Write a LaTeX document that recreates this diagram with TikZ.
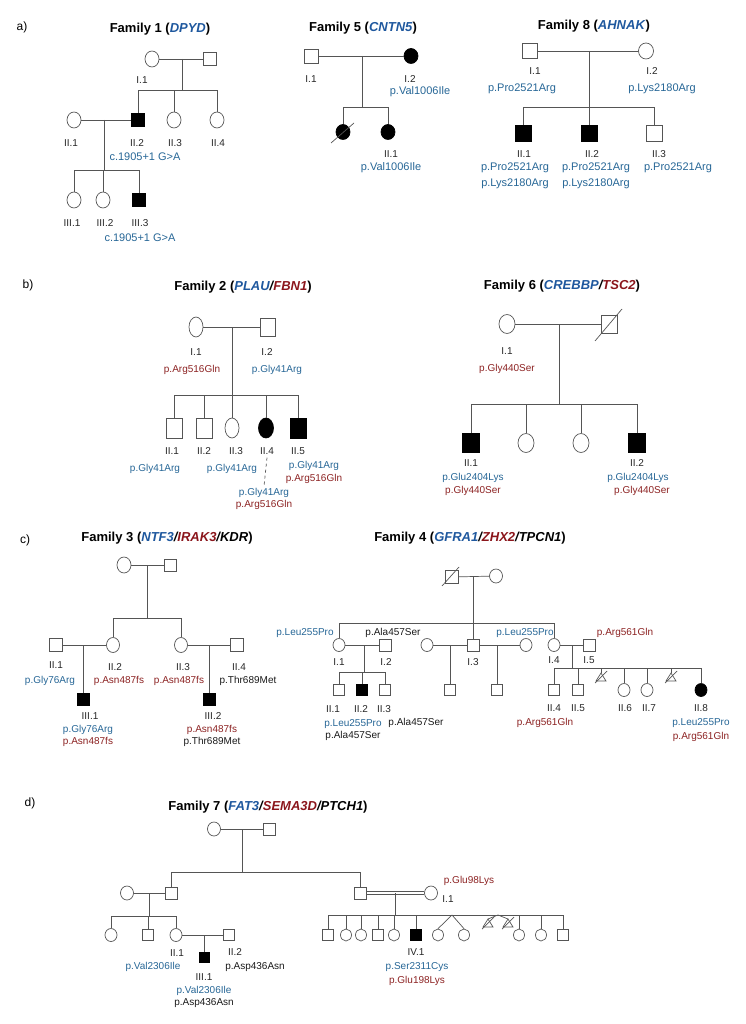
\documentclass[tikz,border=0pt]{standalone}
\usepackage{fontspec}
\setmainfont{Liberation Sans}
\usetikzlibrary{shapes.geometric}

\definecolor{geneblue}{RGB}{31,88,158}
\definecolor{genered}{RGB}{139,22,28}
\definecolor{varblue}{RGB}{38,102,150}
\definecolor{varred}{RGB}{140,34,34}
\definecolor{pedline}{RGB}{85,85,85}

\tikzset{
  ped/.style={draw=pedline, line width=0.7pt},
  male/.style 2 args={draw=pedline, line width=0.7pt, fill=white, rectangle, inner sep=0pt, minimum width=#1pt, minimum height=#2pt},
  female/.style 2 args={draw=pedline, line width=0.7pt, fill=white, ellipse, inner sep=0pt, minimum width=#1pt, minimum height=#2pt},
  aff/.style={fill=black, draw=black},
  gen/.style={font=\fontsize{10}{12}\selectfont, text=black!85, inner sep=0pt},
  vb/.style={font=\fontsize{10}{12}\selectfont, text=varblue, inner sep=0pt},
  vr/.style={font=\fontsize{10}{12}\selectfont, text=varred, inner sep=0pt},
  vk/.style={font=\fontsize{10}{12}\selectfont, text=black!90, inner sep=0pt},
  big/.style={font=\fontsize{11}{13}\selectfont},
  title/.style={font=\fontsize{13}{15}\selectfont\bfseries, inner sep=0pt},
  panel/.style={font=\fontsize{12}{14}\selectfont, inner sep=0pt}
}

% triangle for a lost pregnancy, apex at (#1,#2)
\newcommand{\lossmark}[2]{%
  \draw[ped] (#1,#2) -- (#1-5,#2+8) -- (#1+5,#2+8) -- cycle;
  \draw[ped] (#1-6,#2+10) -- (#1+6,#2-2);}

\begin{document}
\begin{tikzpicture}[x=1pt,y=-1pt]
\useasboundingbox (0,0) rectangle (745,1024);

% ---------------- a) Family 1
\node[panel] (pa) at (22,27) {a)};
\node[title] (h1) at (160,29) {Family 1 (\textcolor{geneblue}{\textit{DPYD}})};
\node[female={14}{16}] (f1I1) at (152,59) {};
\node[male={13}{13}] (f1I2) at (210,59) {};
\node[female={14}{16}] (f1II1) at (74,120) {};
\node[male={13}{13},aff] (f1II2) at (138,120) {};
\node[female={14}{16}] (f1II3) at (174,120) {};
\node[female={14}{16}] (f1II4) at (217,120) {};
\node[female={14}{16}] (f1III1) at (74,200) {};
\node[female={14}{16}] (f1III2) at (103,200) {};
\node[male={13}{13},aff] (f1III3) at (139,200) {};
\coordinate (f1m1) at (182,59); \coordinate (f1s1) at (182,90);
\coordinate (f1m2) at (104,120); \coordinate (f1s2) at (104,170);
\draw[ped] (f1I1) -- (f1I2);
\draw[ped] (f1m1) -- (f1s1);
\draw[ped] (f1II2.north |- f1s1) -- (f1II4.north |- f1s1);
\foreach \k in {f1II2,f1II3,f1II4} \draw[ped] (\k.north) -- (\k.north |- f1s1);
\draw[ped] (f1II1) -- (f1II2);
\draw[ped] (f1m2) -- (f1s2);
\draw[ped] (f1III1.north |- f1s2) -- (f1III3.north |- f1s2);
\foreach \k in {f1III1,f1III2,f1III3} \draw[ped] (\k.north) -- (\k.north |- f1s2);
\node[gen] (t1a) at (142,80) {I.1};
\node[gen] (t1b) at (71,143) {II.1};
\node[gen] (t1c) at (137,143) {II.2};
\node[gen] (t1d) at (175,143) {II.3};
\node[gen] (t1e) at (218,143) {II.4};
\node[vb,big] (t1f) at (145,157) {c.1905+1 G>A};
\node[gen] (t1g) at (72,223) {III.1};
\node[gen] (t1h) at (105,223) {III.2};
\node[gen] (t1i) at (140,223) {III.3};
\node[vb,big] (t1j) at (140,238) {c.1905+1 G>A};

% ---------------- Family 5
\node[title] (h5) at (363,28) {Family 5 (\textcolor{geneblue}{\textit{CNTN5}})};
\node[male={14}{14}] (f5I1) at (311,56) {};
\node[female={14}{15},aff] (f5I2) at (411,56) {};
\node[female={14}{15},aff] (f5II0) at (343,132) {};
\node[female={14}{15},aff] (f5II1) at (388,132) {};
\coordinate (f5m1) at (362,56); \coordinate (f5s1) at (362,107);
\draw[ped] (f5I1) -- (f5I2);
\draw[ped] (f5m1) -- (f5s1);
\draw[ped] (f5II0.north |- f5s1) -- (f5II1.north |- f5s1);
\foreach \k in {f5II0,f5II1} \draw[ped] (\k.north) -- (\k.north |- f5s1);
\draw[ped] (331,143) -- (354,123);
\node[gen] (t5a) at (311,79) {I.1};
\node[gen] (t5b) at (410,79) {I.2};
\node[vb,big] (t5c) at (420,92) {p.Val1006Ile};
\node[gen] (t5d) at (391,154) {II.1};
\node[vb,big] (t5e) at (391,168) {p.Val1006Ile};

% ---------------- Family 8
\node[title] (h8) at (594,26) {Family 8 (\textcolor{geneblue}{\textit{AHNAK}})};
\node[male={15}{15}] (f8I1) at (530,51) {};
\node[female={15}{16}] (f8I2) at (646,51) {};
\node[male={16}{16},aff] (f8II1) at (523,133) {};
\node[male={16}{16},aff] (f8II2) at (589,133) {};
\node[male={16}{16}] (f8II3) at (654,133) {};
\coordinate (f8m1) at (589,51); \coordinate (f8s1) at (589,107);
\draw[ped] (f8I1) -- (f8I2);
\draw[ped] (f8m1) -- (f8s1);
\draw[ped] (f8II1.north |- f8s1) -- (f8II3.north |- f8s1);
\foreach \k in {f8II1,f8II2,f8II3} \draw[ped] (\k.north) -- (\k.north |- f8s1);
\node[gen] (t8a) at (535,71) {I.1};
\node[gen] (t8b) at (652,71) {I.2};
\node[vb,big] (t8c) at (522,89) {p.Pro2521Arg};
\node[vb,big] (t8d) at (662,89) {p.Lys2180Arg};
\node[gen] (t8e) at (524,154) {II.1};
\node[gen] (t8f) at (592,154) {II.2};
\node[gen] (t8g) at (659,154) {II.3};
\node[vb,big] (t8h) at (515,168) {p.Pro2521Arg};
\node[vb,big] (t8i) at (515,184) {p.Lys2180Arg};
\node[vb,big] (t8j) at (596,168) {p.Pro2521Arg};
\node[vb,big] (t8k) at (596,184) {p.Lys2180Arg};
\node[vb,big] (t8l) at (678,168) {p.Pro2521Arg};

% ---------------- b) Family 2
\node[panel] (pb) at (28,285) {b)};
\node[title] (h2) at (243,287) {Family 2 (\textit{\textcolor{geneblue}{PLAU}/\textcolor{genered}{FBN1}})};
\node[female={14}{20}] (f2I1) at (196,327) {};
\node[male={15}{18}] (f2I2) at (268,327) {};
\node[male={16}{20}] (f2II1) at (174,428) {};
\node[male={16}{20}] (f2II2) at (204,428) {};
\node[female={14}{20}] (f2II3) at (232,428) {};
\node[female={15}{20},aff] (f2II4) at (266,428) {};
\node[male={16}{20},aff] (f2II5) at (298,428) {};
\coordinate (f2m1) at (232,327); \coordinate (f2s1) at (232,395);
\draw[ped] (f2I1) -- (f2I2);
\draw[ped] (f2m1) -- (f2s1);
\draw[ped] (f2II1.north |- f2s1) -- (f2II5.north |- f2s1);
\foreach \k in {f2II1,f2II2,f2II3,f2II4,f2II5} \draw[ped] (\k.north) -- (\k.north |- f2s1);
\node[gen] (t2a) at (196,352) {I.1};
\node[vr] (t2b) at (192,370) {p.Arg516Gln};
\node[gen] (t2c) at (267,352) {I.2};
\node[vb] (t2d) at (277,370) {p.Gly41Arg};
\node[gen] (t2e) at (172,451) {II.1};
\node[gen] (t2f) at (204,451) {II.2};
\node[gen] (t2g) at (236,451) {II.3};
\node[gen] (t2h) at (267,451) {II.4};
\node[gen] (t2i) at (298,451) {II.5};
\node[vb] (t2j) at (155,469) {p.Gly41Arg};
\node[vb] (t2k) at (232,469) {p.Gly41Arg};
\node[vb] (t2l) at (314,466) {p.Gly41Arg};
\node[vr] (t2m) at (314,479) {p.Arg516Gln};
\node[vb] (t2n) at (264,493) {p.Gly41Arg};
\node[vr] (t2o) at (264,505) {p.Arg516Gln};
\draw[ped, dashed] ([yshift=-3pt]t2h.south) -- ([yshift=2pt]t2n.north);

% ---------------- Family 6
\node[title] (h6) at (562,286) {Family 6 (\textit{\textcolor{geneblue}{CREBBP}/\textcolor{genered}{TSC2}})};
\node[female={16}{19}] (f6I1) at (507,324) {};
\node[male={16}{18}] (f6I2) at (609,324) {};
\node[male={17}{19},aff] (f6II1) at (471,443) {};
\node[female={16}{19}] (f6II2) at (526,443) {};
\node[female={16}{19}] (f6II3) at (581,443) {};
\node[male={17}{19},aff] (f6II4) at (637,443) {};
\coordinate (f6m1) at (559,324); \coordinate (f6s1) at (559,404);
\draw[ped] (f6I1) -- (f6I2);
\draw[ped] (595,341) -- (622,309);
\draw[ped] (f6m1) -- (f6s1);
\draw[ped] (f6II1.north |- f6s1) -- (f6II4.north |- f6s1);
\foreach \k in {f6II1,f6II2,f6II3,f6II4} \draw[ped] (\k.north) -- (\k.north |- f6s1);
\node[gen] (t6a) at (507,351) {I.1};
\node[vr] (t6b) at (507,369) {p.Gly440Ser};
\node[gen] (t6c) at (471,463) {II.1};
\node[vb] (t6d) at (473,478) {p.Glu2404Lys};
\node[vr] (t6e) at (473,491) {p.Gly440Ser};
\node[gen] (t6f) at (637,463) {II.2};
\node[vb] (t6g) at (638,478) {p.Glu2404Lys};
\node[vr] (t6h) at (642,491) {p.Gly440Ser};

% ---------------- c) Family 3
\node[panel] (pc) at (25,540) {c)};
\node[title] (h3) at (167,538) {Family 3 (\textit{\textcolor{geneblue}{NTF3}/\textcolor{genered}{IRAK3}/KDR})};
\node[female={14}{16}] (f3I1) at (124,565) {};
\node[male={12}{12}] (f3I2) at (170,565) {};
\node[male={13}{13}] (f3II1) at (56,645) {};
\node[female={13}{15}] (f3II2) at (113,645) {};
\node[female={13}{15}] (f3II3) at (181,645) {};
\node[male={13}{13}] (f3II4) at (237,645) {};
\node[male={12}{12},aff] (f3III1) at (83,699) {};
\node[male={12}{12},aff] (f3III2) at (209,699) {};
\coordinate (f3m1) at (147,565); \coordinate (f3s1) at (147,618);
\coordinate (f3m2) at (83,645); \coordinate (f3m3) at (209,645);
\draw[ped] (f3I1) -- (f3I2);
\draw[ped] (f3m1) -- (f3s1);
\draw[ped] (f3II2.north |- f3s1) -- (f3II3.north |- f3s1);
\foreach \k in {f3II2,f3II3} \draw[ped] (\k.north) -- (\k.north |- f3s1);
\draw[ped] (f3II1) -- (f3II2);
\draw[ped] (f3II3) -- (f3II4);
\draw[ped] (f3m2) -- (f3III1);
\draw[ped] (f3m3) -- (f3III2);
\node[gen] (t3a) at (56,665) {II.1};
\node[vb] (t3b) at (50,681) {p.Gly76Arg};
\node[gen] (t3c) at (115,667) {II.2};
\node[vr] (t3d) at (119,681) {p.Asn487fs};
\node[gen] (t3e) at (183,667) {II.3};
\node[vr] (t3f) at (179,681) {p.Asn487fs};
\node[gen] (t3g) at (239,667) {II.4};
\node[vk] (t3h) at (248,681) {p.Thr689Met};
\node[gen] (t3i) at (90,716) {III.1};
\node[vb] (t3j) at (88,730) {p.Gly76Arg};
\node[vr] (t3k) at (88,742) {p.Asn487fs};
\node[gen] (t3l) at (213,716) {III.2};
\node[vr] (t3m) at (212,730) {p.Asn487fs};
\node[vk] (t3n) at (212,742) {p.Thr689Met};

% ---------------- Family 4
\node[title] (h4) at (470,538) {Family 4 (\textit{\textcolor{geneblue}{GFRA1}/\textcolor{genered}{ZHX2}/TPCN1})};
\node[male={13}{13}] (f4P1) at (452,577) {};
\node[female={13}{14}] (f4P2) at (496,576) {};
\node[female={12}{13}] (f4I1) at (339,645) {};
\node[male={12}{12}] (f4I2) at (385,645) {};
\node[female={12}{13}] (f4W1) at (427,645) {};
\node[male={12}{12}] (f4I3) at (473,645) {};
\node[female={12}{13}] (f4W2) at (526,645) {};
\node[female={12}{13}] (f4I4) at (554,645) {};
\node[male={12}{12}] (f4I5) at (589,645) {};
\node[male={11}{11}] (f4II1) at (339,690) {};
\node[male={11}{11},aff] (f4II2) at (362,690) {};
\node[male={11}{11}] (f4II3) at (385,690) {};
\node[male={11}{11}] (f4C1) at (450,690) {};
\node[male={11}{11}] (f4C2) at (497,690) {};
\node[male={11}{11}] (f4II4) at (554,690) {};
\node[male={11}{11}] (f4II5) at (578,690) {};
\node[female={12}{13}] (f4II6) at (624,690) {};
\node[female={12}{13}] (f4II7) at (647,690) {};
\node[female={12}{13},aff] (f4II8) at (701,690) {};
\coordinate (f4m0) at (473,577); \coordinate (f4s0) at (473,623);
\coordinate (f4m1) at (364,645); \coordinate (f4s1) at (364,672);
\coordinate (f4m2) at (450,645); \coordinate (f4m3) at (497,645);
\coordinate (f4m4) at (572,645); \coordinate (f4s4) at (572,668);
\coordinate (f4L1) at (601,668); \coordinate (f4L2) at (671,668);
\draw[ped] (f4P1) -- (f4P2);
\draw[ped] (442,586) -- (459,567);
\draw[ped] (f4m0) -- (f4s0);
\draw[ped] (f4I1.north |- f4s0) -- (f4I4.north |- f4s0);
\foreach \k in {f4I1,f4I3,f4I4} \draw[ped] (\k.north) -- (\k.north |- f4s0);
\draw[ped] (f4I1) -- (f4I2);
\draw[ped] (f4W1) -- (f4I3);
\draw[ped] (f4I3) -- (f4W2);
\draw[ped] (f4I4) -- (f4I5);
\draw[ped] (f4m1) -- (f4s1);
\draw[ped] (f4II1.north |- f4s1) -- (f4II3.north |- f4s1);
\foreach \k in {f4II1,f4II2,f4II3} \draw[ped] (\k.north) -- (\k.north |- f4s1);
\draw[ped] (f4m2) -- (f4C1);
\draw[ped] (f4m3) -- (f4C2);
\draw[ped] (f4m4) -- (f4s4);
\draw[ped] (f4II4.north |- f4s4) -- (f4II8.north |- f4s4);
\foreach \k in {f4II4,f4II5,f4II6,f4II7,f4II8} \draw[ped] (\k.north) -- (\k.north |- f4s4);
\draw[ped] (f4L1) -- ++(0,5); \lossmark{601}{673}
\draw[ped] (f4L2) -- ++(0,5); \lossmark{671}{673}
\node[vb] (t4a) at (305,633) {p.Leu255Pro};
\node[vk] (t4b) at (393,633) {p.Ala457Ser};
\node[vb] (t4c) at (525,633) {p.Leu255Pro};
\node[vr] (t4d) at (625,633) {p.Arg561Gln};
\node[gen] (t4e) at (339,662) {I.1};
\node[gen] (t4f) at (386,662) {I.2};
\node[gen] (t4g) at (473,662) {I.3};
\node[gen] (t4h) at (554,660) {I.4};
\node[gen] (t4i) at (589,660) {I.5};
\node[gen] (t4j) at (333,709) {II.1};
\node[gen] (t4k) at (361,709) {II.2};
\node[gen] (t4l) at (384,709) {II.3};
\node[vb] (t4m) at (353,724) {p.Leu255Pro};
\node[vk] (t4n) at (353,736) {p.Ala457Ser};
\node[vk] (t4o) at (416,723) {p.Ala457Ser};
\node[gen] (t4p) at (554,708) {II.4};
\node[gen] (t4q) at (578,708) {II.5};
\node[gen] (t4r) at (625,708) {II.6};
\node[gen] (t4s) at (649,708) {II.7};
\node[gen] (t4t) at (701,708) {II.8};
\node[vr] (t4u) at (545,723) {p.Arg561Gln};
\node[vb] (t4v) at (701,723) {p.Leu255Pro};
\node[vr] (t4w) at (701,737) {p.Arg561Gln};

% ---------------- d) Family 7
\node[panel] (pd) at (30,803) {d)};
\node[title] (h7) at (268,807) {Family 7 (\textit{\textcolor{geneblue}{FAT3}/\textcolor{genered}{SEMA3D}/PTCH1})};
\node[female={13}{14}] (f7P1) at (214,829) {};
\node[male={12}{12}] (f7P2) at (269,829) {};
\node[female={13}{14}] (f7A1) at (127,893) {};
\node[male={12}{12}] (f7A2) at (171,893) {};
\node[male={12}{12}] (f7B1) at (360,893) {};
\node[female={13}{14}] (f7I1) at (431,893) {};
\node[female={12}{13}] (f7C1) at (111,935) {};
\node[male={11}{11}] (f7C2) at (148,935) {};
\node[female={12}{13}] (f7II1) at (176,935) {};
\node[male={11}{11}] (f7II2) at (229,935) {};
\node[male={10}{10},aff] (f7III1) at (204,957) {};
\node[male={11}{11}] (f7D1) at (328,935) {};
\node[female={11}{12}] (f7D2) at (346,935) {};
\node[female={11}{12}] (f7D3) at (361,935) {};
\node[male={11}{11}] (f7D4) at (378,935) {};
\node[female={11}{12}] (f7D5) at (394,935) {};
\node[male={11}{11},aff] (f7IV1) at (416,935) {};
\node[female={11}{12}] (f7D7) at (438,935) {};
\node[female={11}{12}] (f7D8) at (464,935) {};
\node[female={11}{12}] (f7D9) at (519,935) {};
\node[female={11}{12}] (f7D10) at (541,935) {};
\node[male={11}{11}] (f7D11) at (563,935) {};
\coordinate (f7m0) at (242,829); \coordinate (f7s0) at (242,872);
\coordinate (f7m1) at (149,893); \coordinate (f7s1) at (149,916);
\coordinate (f7m2) at (204,935);
\coordinate (f7m3) at (395,893); \coordinate (f7s3) at (395,915);
\coordinate (f7tw) at (452,915); \coordinate (f7lo) at (498,915);
\coordinate (f7la) at (488,919); \coordinate (f7lb) at (508,919);
\draw[ped] (f7P1) -- (f7P2);
\draw[ped] (f7m0) -- (f7s0);
\draw[ped] (f7A2.north |- f7s0) -- (f7B1.north |- f7s0);
\foreach \k in {f7A2,f7B1} \draw[ped] (\k.north) -- (\k.north |- f7s0);
\draw[ped] (f7A1) -- (f7A2);
\draw[ped] (f7m1) -- (f7s1);
\draw[ped] (f7C1.north |- f7s1) -- (f7II1.north |- f7s1);
\foreach \k in {f7C1,f7C2,f7II1} \draw[ped] (\k.north) -- (\k.north |- f7s1);
\draw[ped] (f7II1) -- (f7II2);
\draw[ped] (f7m2) -- (f7III1);
\draw[ped] ([yshift=1.3pt]f7B1.east) -- ([yshift=1.3pt]f7I1.west);
\draw[ped] ([yshift=-1.3pt]f7B1.east) -- ([yshift=-1.3pt]f7I1.west);
\draw[ped] (f7m3) -- (f7s3);
\draw[ped] (f7D1.north |- f7s3) -- (f7D11.north |- f7s3);
\foreach \k in {f7D1,f7D2,f7D3,f7D4,f7D5,f7IV1,f7D9,f7D10,f7D11} \draw[ped] (\k.north) -- (\k.north |- f7s3);
\draw[ped] (f7D7.north) -- (f7tw) -- (f7D8.north);
\draw[ped] (f7la) -- (f7lo) -- (f7lb);
\lossmark{488}{919}
\lossmark{508}{919}
\node[vr] (t7a) at (469,881) {p.Glu98Lys};
\node[gen] (t7b) at (448,899) {I.1};
\node[gen] (t7c) at (416,952) {IV.1};
\node[vb] (t7d) at (417,967) {p.Ser2311Cys};
\node[vr] (t7e) at (417,981) {p.Glu198Lys};
\node[gen] (t7f) at (177,953) {II.1};
\node[vb] (t7g) at (153,967) {p.Val2306Ile};
\node[gen] (t7h) at (235,952) {II.2};
\node[vk] (t7i) at (255,967) {p.Asp436Asn};
\node[gen] (t7j) at (204,977) {III.1};
\node[vb] (t7k) at (204,991) {p.Val2306Ile};
\node[vk] (t7l) at (204,1003) {p.Asp436Asn};

\end{tikzpicture}
\end{document}
